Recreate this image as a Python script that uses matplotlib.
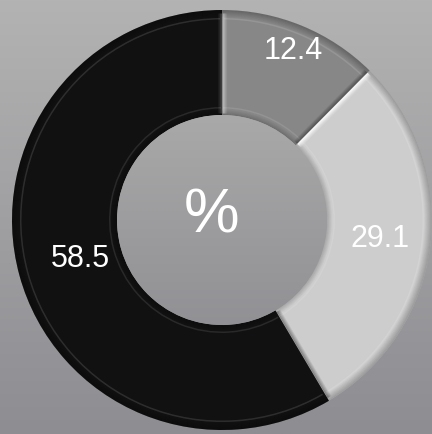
import numpy as np
import matplotlib
matplotlib.use("Agg")
import matplotlib.pyplot as plt
from matplotlib.colors import LinearSegmentedColormap
from matplotlib.patches import Circle, Wedge

plt.rcParams['font.family'] = ['Liberation Sans', 'DejaVu Sans']

# share of each segment, drawn clockwise from 12 o'clock
values = [12.4, 29.1, 58.5]
labels = ['12.4', '29.1', '58.5']
colors = ['#878787', '#cdcdcd', '#111111']
label_radius = [0.87, 0.75, 0.71]   # fraction of outer radius
center_text = '%'

W, H = 432, 434
fig = plt.figure(figsize=(W / 100, H / 100), dpi=100)
ax = fig.add_axes([0, 0, 1, 1])
ax.set_xlim(0, W)
ax.set_ylim(0, H)
ax.set_aspect('equal')
ax.axis('off')

# background: soft vertical grey gradient
bg = LinearSegmentedColormap.from_list('bg', ['#8d8d92', '#b3b3b3'])
grad = np.linspace(0, 1, 256).reshape(-1, 1)
ax.imshow(grad, cmap=bg, extent=[0, W, 0, H], origin='lower', aspect='auto', zorder=0)

cx, cy = 222, 214
R = 210
ring = 105
r_in = R - ring

wedges, _ = ax.pie(values, colors=colors, startangle=90, counterclock=False,
                   radius=R, center=(cx, cy), frame=True,
                   wedgeprops=dict(width=ring, linewidth=0))
for w in wedges:
    w.set_zorder(2)


def radial_band(theta_deg, side, color, alphas):
    """Thin strips parallel to a radial edge, stepping into the wedge."""
    t = np.deg2rad(theta_deg)
    u = np.array([np.cos(t), np.sin(t)])
    n = side * np.array([-np.sin(t), np.cos(t)])
    for k, a in enumerate(alphas):
        d = 0.8 + k
        p0 = np.array([cx, cy]) + (r_in + 2) * u + d * n
        p1 = np.array([cx, cy]) + (R - 3) * u + d * n
        ax.plot([p0[0], p1[0]], [p0[1], p1[1]], color=color, alpha=a,
                lw=0.9, solid_capstyle='butt', zorder=4)


# bevel shading on each segment
for w, col in zip(wedges, colors):
    t1, t2 = w.theta1, w.theta2
    # darker rim along the outside
    for k in range(7):
        a = 0.22 * (7 - k) / 7
        ax.add_patch(Wedge((cx, cy), R - k, t1, t2, width=1.1,
                           color='black', alpha=a, lw=0, zorder=3))
    # faint highlight a little inside the outer rim
    ax.add_patch(Wedge((cx, cy), R - 8, t1 + 0.6, t2 - 0.6, width=1.5,
                       color='white', alpha=0.12, lw=0, zorder=3))
    # shade and highlight along the inner rim
    for k in range(5):
        a = 0.16 * (5 - k) / 5
        ax.add_patch(Wedge((cx, cy), r_in + 1 + k, t1, t2, width=1.1,
                           color='black', alpha=a, lw=0, zorder=3))
    ax.add_patch(Wedge((cx, cy), r_in + 8, t1 + 0.6, t2 - 0.6, width=1.5,
                       color='white', alpha=0.10, lw=0, zorder=3))

# light edge on the leading side, dark edge on the trailing side
radial_band(wedges[0].theta2, -1, 'white', [0.35, 0.25, 0.15, 0.08])
radial_band(wedges[0].theta1, 1, 'black', [0.3, 0.22, 0.15, 0.08])
radial_band(wedges[1].theta2, -1, 'white', [0.85, 0.6, 0.4, 0.22, 0.1])
radial_band(wedges[1].theta1, 1, 'black', [0.3, 0.22, 0.15, 0.08])
radial_band(wedges[2].theta1, 1, 'white', [0.18, 0.12, 0.07, 0.04])

# inner disc with its own gradient
disc = Circle((cx, cy), r_in, transform=ax.transData)
inner = LinearSegmentedColormap.from_list('inner', ['#919195', '#a9a9a9'])
im = ax.imshow(grad, cmap=inner, extent=[cx - 106, cx + 106, cy - 106, cy + 106],
               origin='lower', aspect='auto', zorder=5)
im.set_clip_path(disc)

# value labels placed at each segment's mid angle
start = 90.0
total = sum(values)
for v, lab, rr in zip(values, labels, label_radius):
    span = 360.0 * v / total
    mid = np.deg2rad(start - span / 2)
    start -= span
    ax.text(cx + rr * R * np.cos(mid) + 2, cy + rr * R * np.sin(mid), lab,
            color='white', fontsize=22, ha='center', va='center', zorder=6)

ax.text(cx - 10, cy + 4, center_text, color='white', fontsize=45,
        ha='center', va='center', zorder=6)

fig.savefig('out.png', dpi=100)
